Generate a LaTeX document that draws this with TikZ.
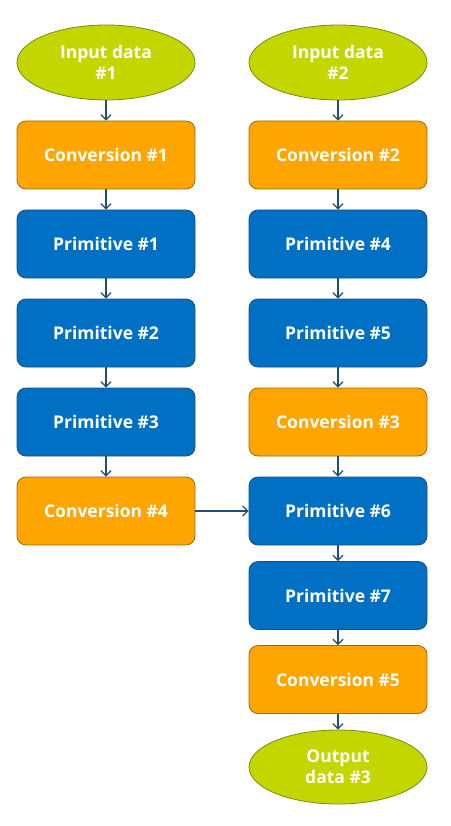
\documentclass[tikz,border=0pt]{standalone}
\usepackage{fontspec}
\setmainfont{Open Sans}
\usetikzlibrary{shapes.geometric,arrows.meta}
\definecolor{gfill}{HTML}{C4D600}
\definecolor{gdraw}{HTML}{7A8A10}
\definecolor{ofill}{HTML}{FFA500}
\definecolor{odraw}{HTML}{9A6A10}
\definecolor{bfill}{HTML}{0070C4}
\definecolor{bdraw}{HTML}{1F4E79}
\definecolor{arr}{HTML}{1F4E79}
\begin{document}
\begin{tikzpicture}[x=1pt,y=-1pt,
  lbl/.style={text=white,font=\fontsize{17.5}{21}\selectfont\bfseries,align=center},
  term/.style={ellipse,lbl,fill=gfill,draw=gdraw,line width=0.8pt,minimum width=178pt,minimum height=75pt,inner sep=0pt},
  conv/.style={rectangle,rounded corners=9pt,lbl,fill=ofill,draw=odraw,line width=0.8pt,minimum width=178pt,minimum height=68pt,inner sep=0pt},
  prim/.style={rectangle,rounded corners=9pt,lbl,fill=bfill,draw=bdraw,line width=0.8pt,minimum width=178pt,minimum height=68pt,inner sep=0pt},
  link/.style={draw=arr,line width=1.3pt,-{Straight Barb[length=5pt,width=10pt]}}]
\useasboundingbox (0,0) rectangle (450,826);
\node[term] (in1) at (106,62.5) {Input data\\\#1};
\node[conv] (c1) at (106,155) {Conversion \#1};
\node[prim] (p1) at (106,244) {Primitive \#1};
\node[prim] (p2) at (106,333) {Primitive \#2};
\node[prim] (p3) at (106,422) {Primitive \#3};
\node[conv] (c4) at (106,511) {Conversion \#4};
\node[term] (in2) at (338,62.5) {Input data\\\#2};
\node[conv] (c2) at (338,155) {Conversion \#2};
\node[prim] (p4) at (338,244) {Primitive \#4};
\node[prim] (p5) at (338,333) {Primitive \#5};
\node[conv] (c3) at (338,422) {Conversion \#3};
\node[prim] (p6) at (338,511) {Primitive \#6};
\node[prim] (p7) at (338,595.5) {Primitive \#7};
\node[conv] (c5) at (338,679.5) {Conversion \#5};
\node[term,minimum height=74pt] (out) at (338,767) {Output\\data \#3};
\draw[link] (in1) -- (c1);
\draw[link] (c1) -- (p1);
\draw[link] (p1) -- (p2);
\draw[link] (p2) -- (p3);
\draw[link] (p3) -- (c4);
\draw[link] (in2) -- (c2);
\draw[link] (c2) -- (p4);
\draw[link] (p4) -- (p5);
\draw[link] (p5) -- (c3);
\draw[link] (c3) -- (p6);
\draw[link] (p6) -- (p7);
\draw[link] (p7) -- (c5);
\draw[link] (c5) -- (out);
\draw[link] (c4) -- (p6);
\end{tikzpicture}
\end{document}
